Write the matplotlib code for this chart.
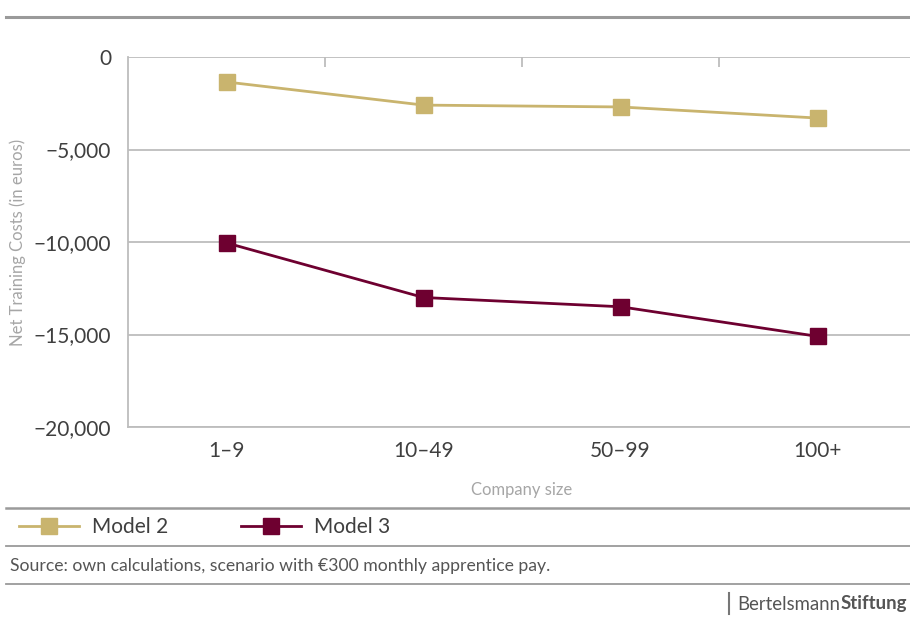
import matplotlib
matplotlib.use("Agg")
import matplotlib.pyplot as plt
from matplotlib.lines import Line2D
from matplotlib.ticker import FuncFormatter

plt.rcParams['font.family'] = ['Lato', 'DejaVu Sans']

# -------------------------
# Data
# -------------------------
categories = ["1\u20139", "10\u201349", "50\u201399", "100+"]
model2 = [-1350, -2600, -2700, -3300]
model3 = [-10050, -13000, -13500, -15100]

GOLD = "#C9B46E"
WINE = "#6E0030"
GRID = "#BDBDBD"
TEXT = "#3F3F3F"
LIGHT = "#A6A6A6"

W, H = 910, 617
fig = plt.figure(figsize=(W / 100, H / 100), dpi=100)

# axes placed in pixel terms (right edge runs slightly off the canvas)
ax = fig.add_axes([128 / W, 1 - 427 / H, 788 / W, 370 / H])

x = range(len(categories))
ax.plot(x, model2, color=GOLD, lw=2, marker="s", ms=12, mec=GOLD, mfc=GOLD, label="Model 2", zorder=3)
ax.plot(x, model3, color=WINE, lw=2, marker="s", ms=12, mec=WINE, mfc=WINE, label="Model 3", zorder=3)

ax.set_xlim(-0.5, 3.5)
ax.set_ylim(-20000, 0)
ax.set_yticks([0, -5000, -10000, -15000, -20000])
ax.yaxis.set_major_formatter(FuncFormatter(
    lambda v, p: "0" if v == 0 else f"{v:,.0f}".replace("-", "\u2212")))
ax.set_xticks(list(x))
ax.set_xticklabels(categories)

ax.tick_params(axis="both", length=0, labelsize=15, colors=TEXT, pad=10)
ax.tick_params(axis="y", pad=12)
ax.grid(axis="y", color=GRID, lw=1.3)
ax.set_axisbelow(True)

for s in ["top", "right"]:
    ax.spines[s].set_visible(False)
for s in ["left", "bottom"]:
    ax.spines[s].set_color(GRID)
    ax.spines[s].set_linewidth(1.3)

# category separator ticks on the zero line
top = ax.secondary_xaxis("top")
top.set_xticks([0.5, 1.5, 2.5])
top.tick_params(direction="in", length=7, width=1.3, color=GRID, labeltop=False)
top.spines["top"].set_visible(False)

ax.set_xlabel("Company size", color=LIGHT, fontsize=12, labelpad=15)
fig.text(18 / W, 1 - 242 / H, "Net Training Costs (in euros)", rotation=90,
         ha="center", va="center", color=LIGHT, fontsize=12)

# -------------------------
# Frame lines
# -------------------------
for y, lw in [(17, 2.2), (508, 1.8), (546, 1.3), (584, 1.3)]:
    fig.add_artist(Line2D([6 / W, 1], [1 - y / H, 1 - y / H], color="#9A9A9A", lw=lw))

# legend
fig.legend(handles=ax.get_lines(), loc="center left", bbox_to_anchor=(0 / W, 1 - 527 / H),
           ncol=2, frameon=False, fontsize=15, handlelength=2.9, handletextpad=0.6,
           columnspacing=3.5, labelcolor=TEXT)

fig.text(10 / W, 1 - 566 / H, "Source: own calculations, scenario with \u20ac300 monthly apprentice pay.",
         ha="left", va="center", color="#555555", fontsize=12.7)

fig.add_artist(Line2D([729 / W, 729 / W], [1 - 593 / H, 1 - 614 / H], color="#777777", lw=1.5))
t1 = fig.text(737 / W, 1 - 604 / H, "Bertelsmann", ha="left", va="center", color="#555555", fontsize=13.4)
fig.canvas.draw()
bb = t1.get_window_extent()
fig.text(bb.x1 / W + 1 / W, 1 - 604 / H, "Stiftung", ha="left", va="center", color="#555555",
         fontsize=13.4, fontweight="bold")

fig.savefig("out.png", dpi=100)
